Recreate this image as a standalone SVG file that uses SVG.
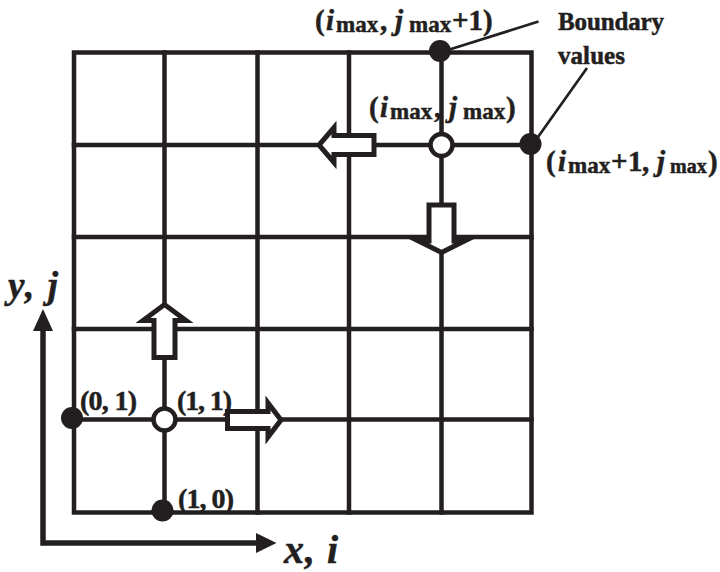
<svg xmlns="http://www.w3.org/2000/svg" width="720" height="572" viewBox="0 0 720 572">
<style>
.g{stroke:#231f20;stroke-width:4.5;fill:none;stroke-linecap:square}
.ba{fill:#fff;stroke:#231f20;stroke-width:5;stroke-linejoin:miter;stroke-miterlimit:10}
.oc{fill:#fff;stroke:#231f20;stroke-width:4.5}
.fc{fill:#231f20}
.ld{stroke:#231f20;stroke-width:2.7;fill:none}
.ax{stroke:#231f20;stroke-width:5.5;fill:none;stroke-linejoin:miter}
text{font-family:"Liberation Serif","Times New Roman",serif;font-weight:bold;fill:#231f20;stroke:#231f20;stroke-width:0.5}
.m{font-size:29px}
.s{font-size:23px}
.s2{font-size:20px}
.it{font-style:italic}
.sm{font-size:28px}
</style>
<rect width="720" height="572" fill="#fff"/>
<g id="grid">
<rect class="g" x="74" y="52.5" width="457.5" height="460"/>
<path class="g" d="M164.5,52.5V512.5M257.5,52.5V512.5M349,52.5V512.5M441.5,52.5V512.5M74,145H531.5M74,237H531.5M74,329H531.5M74,419.5H531.5"/>
</g>
<g id="flux-arrows">
<path id="arrow-up" class="ba" d="M154,357.5V320.5H143L164.5,304.5L186,320.5H175V357.5Z"/>
<path id="arrow-right" class="ba" d="M227.5,411.5H268V403L281,420L268,437V428.5H227.5Z"/>
<path id="arrow-left" class="ba" d="M374,135.5H334V127.5L319,145L334,162.5V154.5H374Z"/>
<path id="arrow-down" class="ba" d="M429,205H454V241H464.5L441.5,252.5L418.5,241H429Z"/>
</g>
<g id="points">
<circle id="p11" class="oc" cx="164.5" cy="419.5" r="11"/>
<circle id="pmax" class="oc" cx="441.5" cy="145" r="11"/>
<circle id="p01" class="fc" cx="72" cy="418" r="11"/>
<circle id="p10" class="fc" cx="162.5" cy="510.5" r="11"/>
<circle id="pmaxj1" class="fc" cx="440" cy="51" r="11"/>
<circle id="pmaxi1" class="fc" cx="530.5" cy="144" r="11"/>
</g>
<g id="connectors">
<path class="ld" d="M448,50L538.5,21.5"/>
<path class="ld" d="M538,137L587,68"/>
<path class="ax" d="M43,330V543H258"/>
<path class="fc" d="M43,309L53,331H33Z"/>
<path class="fc" d="M276.5,543L256,533V553Z"/>
</g>
<g id="labels">
<text id="lbl-top" y="30"><tspan class="m" x="315">(</tspan><tspan class="m it" x="326">i</tspan><tspan class="s" x="336" y="32">max</tspan><tspan class="m" x="380" y="30">,</tspan><tspan class="m it" x="395">j</tspan><tspan class="s" x="409" y="32">max</tspan><tspan class="m" x="452" y="30">+1)</tspan></text>
<text id="lbl-max" y="117"><tspan class="m" x="369">(</tspan><tspan class="m it" x="380">i</tspan><tspan class="s" x="390" y="119">max</tspan><tspan class="m" x="434" y="117">,</tspan><tspan class="m it" x="449">j</tspan><tspan class="s" x="463" y="119">max</tspan><tspan class="m" x="506" y="117">)</tspan></text>
<text id="lbl-right" y="171"><tspan class="m" x="546">(</tspan><tspan class="m it" x="558">i</tspan><tspan class="s" x="568" y="173">max</tspan><tspan class="m" x="611" y="171">+</tspan><tspan class="m" x="628">1</tspan><tspan class="m" x="642">,</tspan><tspan class="m it" x="657">j</tspan><tspan class="s2" x="670" y="173">max</tspan><tspan class="m" x="708" y="171">)</tspan></text>
<text x="558" y="30" font-size="25" textLength="106">Boundary</text>
<text x="558" y="64" font-size="25" textLength="67">values</text>
<text class="sm" x="80" y="410" textLength="57">(0, 1)</text>
<text class="sm" x="177" y="410" textLength="55">(1, 1)</text>
<text class="sm" x="178" y="508" textLength="56">(1, 0)</text>
<text class="it" x="8" y="298" font-size="37" textLength="50">y, j</text>
<text class="it" x="284" y="563" font-size="40" textLength="54">x, i</text>
</g>
</svg>
